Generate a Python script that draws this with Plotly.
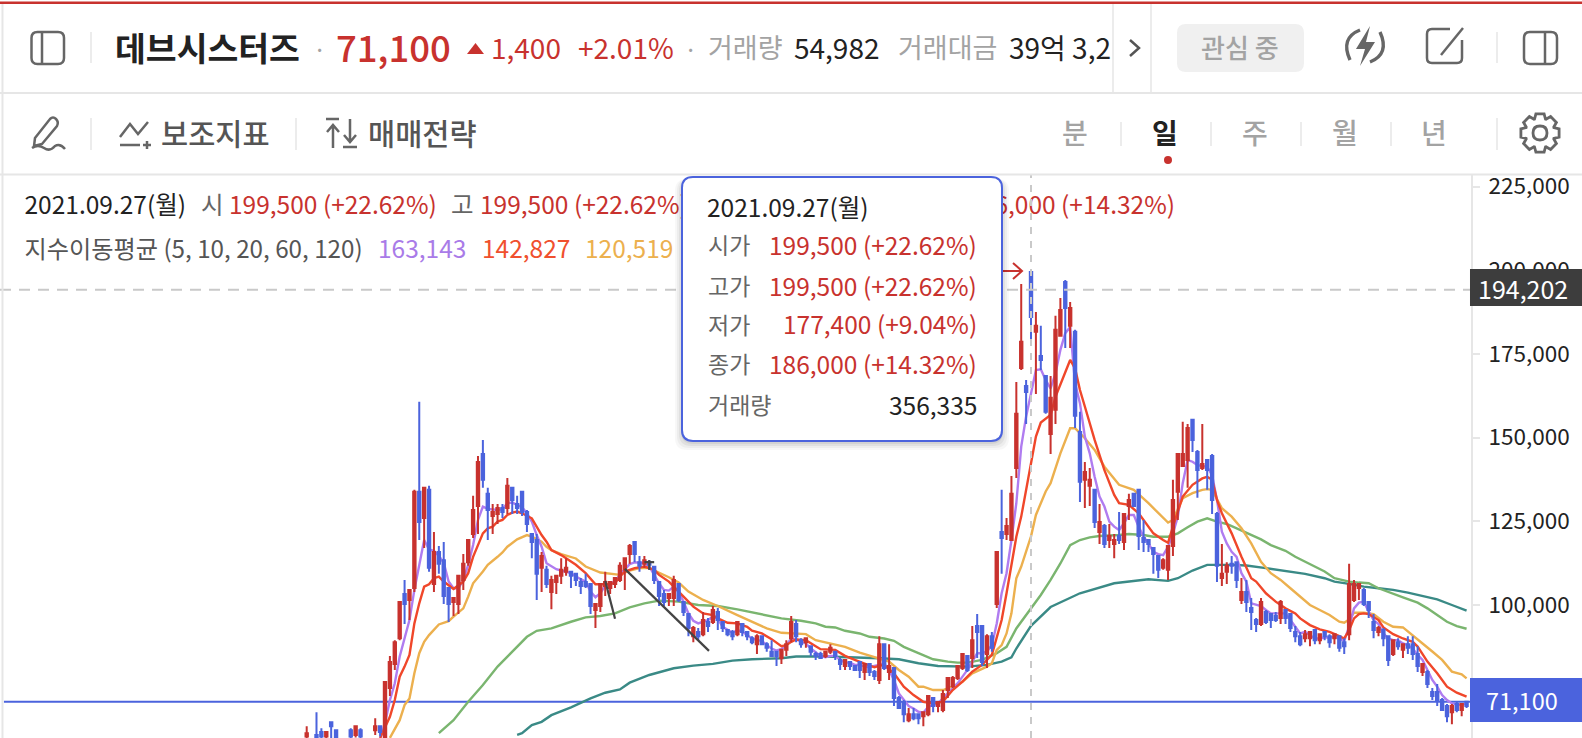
import math
import plotly.graph_objects as go

W, H = 1582, 738
FONT = "Noto Sans CJK KR"
FONT_MED = "Noto Sans CJK KR Medium, Noto Sans CJK KR"
RED = "#c8322e"
BLUE = "#4b63dd"
DARK = "#222222"
GRAY = "#666666"
LIGHT = "#a3a3a3"
LINE = "#e6e6e6"

# daily candles, left to right (first few sit below the visible range)
opens = [
    60700,59500,61200,62100,60700,65000,62600,59500,59300,62600,
    61200,62600,59500,59400,62600,63800,59700,75200,82400,90100,
    103300,101500,105100,133800,126000,134400,106300,115800,113400,105100,
    100900,100300,107500,112800,121200,129600,145100,133200,126600,127200,
    129000,129000,135000,130200,133800,127800,121200,119400,111100,110500,
    103900,106900,108700,109900,109900,109300,106900,106900,106300,98500,
    99700,105700,105100,106300,107500,110500,115200,118800,112800,112300,
    112800,111400,106900,103300,102100,102100,106300,100900,97300,90700,
    91900,91300,94900,94900,97900,94900,92500,91900,91300,94300,
    91900,90100,88300,90700,88300,86000,86000,84200,86600,90100,
    94300,89500,88900,87700,85400,85400,84800,86000,86000,83600,
    81800,83000,81800,83000,80000,82400,80000,77600,88300,80000,
    81200,72200,71000,65600,67400,67400,66800,67400,72200,69800,
    68600,74600,75800,78200,81200,84800,84200,93700,93700,85400,
    90700,100300,121800,121200,119400,140900,170800,165400,199500,181600,
    174400,168400,151100,158300,180400,196500,183400,181600,151700,137400,
    135600,134400,121800,123600,119400,118200,120600,118800,129600,133200,
    134400,120000,119400,117000,114600,111100,110500,117600,133800,141500,
    143300,155300,145700,140900,143300,144500,127200,108100,109900,112300,
    112800,101500,103900,99100,95500,94300,97900,97300,96700,96100,
    98500,97300,91900,90700,90100,90100,92500,89500,91900,90700,
    90100,90700,88900,91300,101500,105100,104500,100900,94900,91900,
    92500,90700,85400,88900,86600,88300,88300,85400,80000,80000,
    74000,74000,71600,69800,68000,70400,68600,71100,
]
highs = [
    63800,59800,68000,63200,62100,65000,62600,59800,59700,63200,
    63800,63200,59800,59900,66200,63800,77000,84800,89500,100900,
    107500,104500,134400,160700,135000,135600,121800,117600,118800,105100,
    102100,108700,115200,119400,132600,144500,149300,135000,130200,130200,
    130200,137900,135000,132600,133800,128400,121200,121200,115800,111700,
    108700,108700,114000,114000,109900,109300,108100,109300,106300,100300,
    106300,109900,106900,108100,112800,114000,118200,118800,114600,114600,
    113400,111700,106900,104500,103300,108700,106300,100900,97300,93700,
    93100,97900,96100,99700,99100,94900,92500,92500,94900,94300,
    91900,90700,91300,90700,88900,89500,86000,86600,89500,96700,
    95500,90100,90100,87700,86000,86000,86000,88300,86000,84200,
    83600,83000,81800,83000,82400,82400,80600,90700,88300,88300,
    81200,72800,71600,69200,69200,67400,68000,72800,72200,71000,
    74600,78200,78800,81800,85400,84800,93700,97300,93700,91300,
    91900,115800,134400,126000,138500,166600,195900,167200,199500,187500,
    183400,168400,168400,186400,191700,197100,190500,182200,157700,142700,
    140900,134400,130200,124200,124200,121200,127800,127200,133200,133200,
    134400,125400,119400,117000,114600,114000,117600,137400,145100,154700,
    154100,155300,146300,154100,143300,145100,127800,118200,112800,114600,
    112800,108100,107500,102100,96100,102100,98500,97300,97900,101500,
    98500,97300,93700,91900,92500,91900,92500,91300,91900,91300,
    91300,90700,90100,112300,107500,106300,105100,100900,97300,93700,
    93100,90700,89500,90100,88300,90700,90700,87700,82400,80600,
    75200,76400,72200,70400,70400,71000,70400,71100,
]
lows = [
    59700,59000,59500,60000,60200,59900,59900,59000,59000,60200,
    60400,60200,59000,59000,61200,60700,59500,72800,80600,89500,
    94300,95500,103900,119400,117000,109900,103900,109300,100300,94900,
    96700,97300,104500,111700,120000,121200,135000,119400,121200,124200,
    126000,127200,127200,127200,126600,121800,114000,101500,103900,105100,
    98700,103300,106300,108700,105100,105700,103300,105100,97300,93100,
    97900,102700,103300,105100,106900,104500,112300,112800,109900,111100,
    110500,106300,99700,99700,99700,99700,100900,96700,90700,88900,
    89500,90700,91900,94300,92500,91900,90700,89500,90700,90700,
    89500,88300,85400,88300,86000,84800,81800,82400,84800,88900,
    88900,87200,87200,84800,83600,84200,84200,85400,83600,80600,
    80600,80600,80600,78200,77600,78800,77600,76400,80600,77600,
    69800,69200,65000,65000,65600,64400,63800,66800,68000,68000,
    68000,72200,75200,77600,80600,80000,81200,84200,81800,81200,
    86000,99100,109300,119400,119400,137900,170200,154100,177400,163000,
    170200,157100,145100,154100,180400,176800,176800,152900,130800,129000,
    129600,123000,118200,117000,117000,114000,118200,116400,125400,129600,
    116400,115800,115800,109300,108100,110500,107500,114600,125400,141500,
    135000,145700,132000,140300,134400,127200,106900,105700,106300,109300,
    105100,100300,97900,92500,91900,93700,94300,93100,94900,94300,
    94300,91900,88900,87700,88900,87700,88300,88300,89500,87200,
    88300,86000,85400,89500,100900,101500,99700,96100,90100,90700,
    87700,81800,84800,86600,84200,85400,83600,80000,78800,75200,
    71600,69800,68600,65000,64400,68000,66800,69200,
]
closes = [
    61700,59300,59900,60700,62100,63800,60300,59200,59500,60700,
    63800,60700,59300,59600,63800,62100,77000,83000,88900,100900,
    100300,104500,133800,124800,135000,111100,115800,112300,102700,100300,
    102100,108700,112300,119400,128400,142700,137400,128400,127800,129000,
    127800,135600,131400,129000,127800,124200,118800,109300,114600,106300,
    107500,108700,110500,111100,108700,107500,105700,105700,99700,100300,
    106300,106900,106900,108100,111700,114000,117600,115200,111700,113400,
    112000,107500,102700,100900,103300,107500,101500,97900,93100,93100,
    90700,95500,93700,98500,95500,93100,91300,90700,94900,91900,
    90700,88900,90700,88300,87200,84800,84800,86600,88300,94900,
    90700,88300,90100,86000,84800,84200,86000,87200,84800,82400,
    83600,81800,80600,80600,82400,80000,78800,88300,81200,81800,
    72200,69200,67400,67400,66200,66200,68000,72800,69800,71000,
    73400,78200,78200,81800,85400,80600,89500,91900,83000,90700,
    87200,115800,120000,123600,133200,157100,178600,163600,186000,183400,
    173200,157700,161900,182200,188100,188700,188700,156500,136800,139700,
    137400,124800,124800,118200,120600,119400,119400,127200,131400,129600,
    120600,118800,118200,115200,110500,113400,117600,131400,145100,145100,
    152900,149300,140300,142100,140300,131400,111700,109300,111700,111700,
    107500,103900,100900,97900,94300,100900,94900,95500,95500,100900,
    96100,93100,90700,88300,91300,91900,89500,91300,90700,88900,
    91300,87200,87700,106300,106300,106300,100300,98500,92500,93100,
    90100,83600,89500,87700,88300,87200,85400,81800,82400,76400,
    72800,71600,68600,66800,69800,68600,70400,69800,
]
days = list(range(len(opens)))

# moving averages, read at the days where each line can be seen
ema5_days = list(range(15, 238))
ema5 = [
    60000,64600,71600,76600,84600,
    90000,95500,104500,112500,119400,116600,116200,114700,112600,107000,
    105000,105000,107500,112000,117900,125400,129400,128700,128600,128400,
    128600,130400,130600,129900,129200,127400,124900,120900,117400,112500,
    111500,110700,110300,110000,109500,108500,107700,107000,104000,102300,
    103500,105800,106500,107000,109000,110500,112200,112700,112700,112400,
    111500,109000,106500,104500,104300,105500,104000,101000,97500,95300,
    94500,95000,95500,96500,95900,93500,92500,91700,92500,92000,
    91000,90000,89500,89300,88000,87000,86400,86800,88000,90000,
    89700,89000,88500,87000,85800,84800,84400,84800,84800,83600,
    82800,82800,82100,82100,81600,81400,81800,82100,82400,80600,
    77600,73600,71600,69800,69100,68100,67800,69600,70100,70600,
    72100,73600,74800,76600,78600,80600,83100,85600,85600,86100,
    88000,94500,103500,109500,119400,130400,147300,156300,163143,170200,
    170400,167200,164700,169200,176200,181200,183000,166200,160300,150300,
    145300,138300,132400,129400,124900,123400,122400,124400,126900,126900,
    123400,120400,118400,115900,115200,114900,117400,121400,126400,136400,
    143300,142800,141800,141500,141300,138800,131400,121900,118400,115900,
    114400,109500,107000,100500,100000,99700,98500,97500,97500,97500,
    97500,95500,93500,91500,92000,91000,90000,90000,90300,90300,
    90500,90000,89300,93500,99000,100700,101000,98000,95500,94300,
    91500,90000,89500,89500,88500,88000,87000,85100,83600,80600,
    77600,75600,73100,71600,70600,70400,70100,70600,
]
ema10_days = [
    15,17,18,19,20,21,22,23,24,25,26,27,28,30,32,33,34,36,37,38,39,40,41,42,43,44,46,48,49,
    50,52,53,55,57,59,60,61,62,63,64,65,66,67,69,70,71,72,74,76,78,79,81,83,84,86,88,90,91,93,95,96,97,98,99,100,102,104,
    105,108,110,112,114,116,117,118,120,121,122,124,126,128,130,132,134,136,138,140,141,142,143,144,145,
    146,147,148,149,150,152,153,154,155,156,157,158,159,161,163,165,166,168,170,172,173,175,176,177,179,181,183,184,
    185,186,187,189,191,193,194,196,198,200,202,203,205,207,209,211,212,
    213,214,215,216,217,219,220,222,224,226,227,229,231,233,235,236,237,
]
ema10 = [
    60300,66600,71600,78600,81600,85100,94500,100500,105500,106200,108000,108500,107000,104800,107000,109500,114400,121400,122900,123400,124900,125400,126900,127600,127900,127400,125900,120900,118900,
    116400,114900,113900,112000,109500,106200,106200,106200,106300,106500,108500,110000,110500,111000,111500,111000,110500,109000,107000,104000,101000,99500,97500,97000,96000,94700,94500,93500,92300,91500,89800,88700,87700,88000,89000,89700,89500,87700,
    86800,86600,84800,83600,82600,81400,81800,82100,79600,77600,75600,73100,71100,70600,71100,74600,77100,80100,82100,85100,90500,95500,103500,112500,120400,
    126400,134400,142827,150300,154500,156800,162200,165700,169200,173200,170700,164200,159300,149300,140300,132900,130400,129900,127400,123600,121400,119400,118600,123400,132400,135900,137800,138300,
    137400,131400,127400,121400,114400,108000,107000,103500,101000,99000,97500,96000,94000,92700,92000,90700,90000,
    92500,96000,97300,97500,97300,95500,93300,91300,90000,89000,87600,83100,79600,75600,73800,73100,72600,
]
ema20_days = [
    17,19,20,21,22,23,24,25,27,29,30,32,33,34,36,37,39,40,41,43,45,46,48,49,
    50,52,55,57,60,61,64,66,68,70,72,74,76,78,81,84,88,91,94,97,99,102,104,
    107,110,113,117,119,121,123,125,126,128,130,132,134,136,139,140,141,142,143,144,145,
    146,148,149,151,152,154,156,157,159,161,163,166,169,172,176,177,179,181,183,184,
    185,187,189,191,193,195,197,199,201,203,205,207,209,211,212,213,
    214,216,218,220,222,224,226,228,230,232,234,236,237,
]
ema20 = [
    60300,65600,70100,72100,79600,85600,89000,91000,94200,95200,96500,99000,102500,106500,110000,112000,114400,115700,117400,119600,120900,120400,118900,117400,
    116400,115200,113900,111500,109700,109500,109000,110300,111000,111000,109700,108300,106700,104000,101500,99700,97000,95000,93000,91700,91500,91300,89500,
    88500,87500,85800,84100,83100,80600,78600,75600,75600,74600,74600,75600,77100,79600,81600,82600,86600,88000,91500,97500,108000,
    111500,120519,126900,133900,136400,145300,152800,152800,149800,146300,141300,135900,134400,130400,124600,125400,131900,133400,134400,134600,
    134400,128900,126400,122900,118400,112900,109500,107500,105000,102500,100000,98500,97000,95000,94700,95700,
    97700,97700,97300,95000,93500,93300,91000,88500,86100,83600,80100,79300,78100,
]
ema60_days = [
    27,30,33,36,39,42,45,47,50,54,57,60,63,66,69,72,76,80,84,88,92,97,101,104,
    106,108,110,113,115,118,120,122,125,128,131,133,135,138,141,143,145,148,150,
    152,154,156,158,160,162,166,168,171,173,176,178,180,182,184,
    186,188,190,192,195,197,200,202,205,208,210,212,213,
    215,217,219,221,224,227,229,231,233,235,237,
]
ema60 = [
    61700,65600,71100,76100,81600,86100,90500,92300,93000,95000,96300,96700,97500,99300,100500,101300,101000,100000,99700,98700,97500,96000,95300,94500,
    93500,93300,92300,91500,90500,90000,89300,87500,85600,83800,83100,82800,82800,83600,85600,87500,93000,99000,103000,
    107500,112400,117900,119400,120200,120600,120900,121200,120900,120400,120400,121400,123200,124900,125900,
    124900,124200,122900,121400,119600,117900,116200,114400,112200,110000,108000,107200,107000,
    106700,106500,105000,104000,102300,100700,99000,97000,95000,93700,92900,
]
ema120_days = [
    43,44,46,48,50,54,58,61,64,66,70,75,79,83,87,91,97,100,104,
    106,117,121,125,129,135,139,142,144,145,148,152,158,165,172,
    176,178,181,184,189,192,196,200,204,208,210,213,
    216,219,222,225,228,231,234,237,
]
ema120 = [
    61200,61700,64100,65100,67100,69400,72100,73800,74800,76800,79100,81100,81900,82400,83400,83800,84100,84600,84600,
    84600,84100,83800,82600,81800,81600,82100,83100,84400,87000,93800,99400,103500,106500,107700,
    107200,108000,110300,112000,112000,111800,111000,110200,109300,108000,107000,106300,
    105500,105000,104500,103700,102700,101700,100000,98300,
]
price_ticks = [100000, 125000, 150000, 175000, 200000, 225000]
last_price = 71100
cross_price = 194202
cross_day = 148
# user drawn trend lines on the chart: day, price, day, price
drawn_lines = [
    (61, 107200, 63, 95900),
    (65, 110800, 82.2, 86300),
    (69, 112800, 71, 112800),
    (70, 113400, 70, 110500),
]

# the price pane in page pixels
X_PER_DAY = 4.894
X_ZERO = 306.7
PRICE_PER_PX = 298.7
PANE_TOP, PANE_RIGHT = 175, 1471
x_range = [(0 - X_ZERO) / X_PER_DAY, (PANE_RIGHT - X_ZERO) / X_PER_DAY]
y_range = [100000 + (605 - H) * PRICE_PER_PX, 100000 + (605 - PANE_TOP) * PRICE_PER_PX]


def day_at(px):
    return (px - X_ZERO) / X_PER_DAY


def price_at(py):
    return 100000 + (605 - py) * PRICE_PER_PX


def pth(d):
    # path written in page pixels, turned into paper fractions
    out, is_x = [], True
    for tok in d.split():
        if tok.isalpha():
            out.append(tok)
            is_x = True
        else:
            v = float(tok)
            out.append(f"{v / W:.5f}" if is_x else f"{1 - v / H:.5f}")
            is_x = not is_x
    return " ".join(out)


def rr(x0, y0, x1, y1, r):
    return (f"M {x0+r} {y0} L {x1-r} {y0} Q {x1} {y0} {x1} {y0+r} L {x1} {y1-r} Q {x1} {y1} {x1-r} {y1} "
            f"L {x0+r} {y1} Q {x0} {y1} {x0} {y1-r} L {x0} {y0+r} Q {x0} {y0} {x0+r} {y0} Z")


def stroke(d, color=GRAY, width=2.5):
    return dict(type="path", xref="paper", yref="paper", path=pth(d), line=dict(color=color, width=width), layer="above")


def solid(d, color, line=None, width=0):
    return dict(type="path", xref="paper", yref="paper", path=pth(d), fillcolor=color,
                line=dict(color=line or color, width=width), layer="above")


def seg(x0, y0, x1, y1, color=LINE, width=1.5):
    return stroke(f"M {x0} {y0} L {x1} {y1}", color, width)


def gear(cx, cy, r_out, r_in, teeth=8):
    pts = []
    for i in range(teeth):
        a = 2 * math.pi * i / teeth - math.pi / 2
        step = 2 * math.pi / teeth
        for da, r in [(-0.30, r_in), (-0.17, r_out), (0.17, r_out), (0.30, r_in)]:
            b = a + da * step * 1.6
            pts.append(f"{cx + r * math.cos(b):.1f} {cy + r * math.sin(b):.1f}")
    return "M " + " L ".join(pts) + " Z"


def label(x, y, text, size, color, anchor="left", weight=400, family=FONT):
    return dict(x=x / W, y=1 - y / H, xref="paper", yref="paper", text=text, showarrow=False,
                xanchor=anchor, yanchor="middle", align=anchor, borderpad=0, borderwidth=0,
                font=dict(family=family, size=size, color=color, weight=weight))


def under_text(x, y, text, color, pos="middle right", size=24.5):
    # legend rows run behind the tooltip card, so they are drawn below the shapes
    return go.Scatter(x=[day_at(x)], y=[price_at(y)], text=[text], mode="text", textposition=pos,
                      textfont=dict(family=FONT, size=size, color=color), showlegend=False, hoverinfo="skip")


fig = go.Figure()
fig.add_trace(under_text(24.5, 208, "2021.09.27(월)", DARK))
fig.add_trace(under_text(201, 208, "시", GRAY))
fig.add_trace(under_text(229, 208, "199,500 (+22.62%)", RED))
fig.add_trace(under_text(451, 208, "고", GRAY))
fig.add_trace(under_text(480, 208, "199,500 (+22.62%)", RED))
fig.add_trace(under_text(1175, 208, "186,000 (+14.32%)", RED, "middle left"))
fig.add_trace(under_text(24.5, 252, "지수이동평균 (5, 10, 20, 60, 120)", "#555555", size=24.2))
fig.add_trace(under_text(378, 252, "163,143", "#a97be8"))
fig.add_trace(under_text(482, 252, "142,827", "#f0502e"))
fig.add_trace(under_text(585, 252, "120,519", "#ecb04e"))

for xs, ys, color in [
    (ema120_days, ema120, "#3a8a86"),
    (ema60_days, ema60, "#7ab56f"),
    (ema20_days, ema20, "#ecb04e"),
    (ema5_days, ema5, "#b07cf0"),
    (ema10_days, ema10, "#f0472a"),
]:
    fig.add_trace(go.Scatter(x=xs, y=ys, mode="lines", line=dict(color=color, width=2.4),
                             showlegend=False, hoverinfo="skip"))

fig.add_trace(go.Candlestick(
    x=days, open=opens, high=highs, low=lows, close=closes, xaxis="x2", yaxis="y2",
    increasing=dict(line=dict(color=RED, width=2), fillcolor=RED),
    decreasing=dict(line=dict(color=BLUE, width=2), fillcolor=BLUE),
    whiskerwidth=0, showlegend=False, hoverinfo="skip",
))

shapes = []
# price lines under the candles
shapes.append(dict(type="line", xref="x", yref="y", x0=x_range[0] + 0.8, x1=x_range[1], y0=last_price, y1=last_price,
                   line=dict(color=BLUE, width=2), layer="below"))
# drawn trend lines and crosshair
for d0, p0, d1, p1 in drawn_lines:
    shapes.append(dict(type="line", xref="x", yref="y", x0=d0, y0=p0, x1=d1, y1=p1,
                       line=dict(color="#444444", width=2.2), layer="above"))
shapes.append(dict(type="line", xref="x", yref="y", x0=cross_day, x1=cross_day, y0=y_range[0], y1=y_range[1],
                   line=dict(color="#c9c9c9", width=2, dash="7px,7px"), layer="above"))
shapes.append(dict(type="line", xref="x", yref="y", x0=x_range[0], x1=x_range[1], y0=cross_price, y1=cross_price,
                   line=dict(color="#c9c9c9", width=2, dash="11px,8px"), layer="above"))
# arrow to the high of the hovered day
shapes.append(stroke("M 1000 271 L 1022 271 M 1013 263 L 1022 271 L 1013 279", RED, 2))

# page frame and header rules
shapes += [
    seg(0, 2.7, W, 2.7, RED, 2.4),
    seg(2.5, 4, 2.5, H, LINE, 2),
    seg(0, 93, W, 93, LINE, 2),
    seg(0, 174.5, W, 174.5, LINE, 2),
    seg(1113, 4, 1113, 92, LINE, 1.5),
    seg(1151, 4, 1151, 92, LINE, 1.5),
]
for x, y0, y1 in [(91, 32, 63), (1497, 32, 63), (91, 118, 150), (296, 118, 150),
                  (1121, 122, 146), (1211, 122, 146), (1301, 122, 146), (1391, 122, 146), (1497, 118, 150)]:
    shapes.append(seg(x, y0, x, y1))

# header icons
shapes += [
    stroke(rr(31.5, 32, 64, 64, 6)),
    seg(42, 32, 42, 64, GRAY, 2.5),
    solid("M 475.5 43 L 484 54 L 467 54 Z", RED),
    stroke("M 1130 40 L 1139 48 L 1130 56", "#555555", 2.5),
    solid(rr(1177, 24, 1304, 72, 9), "#f0f0f0"),
    stroke("M 1350 60 Q 1340 38 1360 30", GRAY, 3.4),
    stroke("M 1380 32 Q 1390 54 1370 62", GRAY, 3.4),
    solid("M 1370 26 L 1356 49 L 1365 49 L 1360 66 L 1375 42 L 1366 42 Z", GRAY),
    stroke("M 1450 29 L 1432 29 Q 1427 29 1427 34 L 1427 58 Q 1427 63 1432 63 L 1457 63 Q 1462 63 1462 58 L 1462 40"),
    stroke("M 1463 28 L 1441 55"),
    stroke(rr(1524, 32, 1557, 64, 6)),
    seg(1545, 32, 1545, 64, GRAY, 2.5),
    # second row
    stroke("M 35 138 L 50 119 Q 53 116 56 119 Q 59 122 57 126 L 42 144 L 34 146 Z", GRAY, 2.5),
    stroke("M 32 148 Q 38 144 44 148 Q 50 152 55 146 Q 60 143 65 149", GRAY, 2.5),
    stroke("M 120 137 L 130 124 L 138 134 L 148 122", GRAY, 2.5),
    stroke("M 120 145 L 140 145 M 147 141 L 147 149 M 143 145 L 151 145", GRAY, 2.5),
    stroke("M 326 119 L 339 119 M 333 148 L 333 126 M 327 132 L 333 125 L 339 132", GRAY, 2.5),
    stroke("M 343 147 L 357 147 M 350 119 L 350 141 M 344 135 L 350 142 L 356 135", GRAY, 2.5),
    solid(gear(1540, 133, 19.5, 15), "rgba(0,0,0,0)", GRAY, 2.8),
    stroke("M 1533 133 Q 1533 126 1540 126 Q 1547 126 1547 133 Q 1547 140 1540 140 Q 1533 140 1533 133 Z", GRAY, 2.8),
    solid("M 1164 160 Q 1164 156 1168 156 Q 1172 156 1172 160 Q 1172 164 1168 164 Q 1164 164 1164 160 Z", RED),
]

# tooltip card, with a soft shadow
for grow, alpha in [(7, 0.03), (5, 0.04), (3, 0.05), (1, 0.06)]:
    shapes.append(solid(rr(682 - grow, 177 + 2, 1002 + grow, 441 + 2 + grow, 12), f"rgba(0,0,0,{alpha})"))
shapes.append(solid(rr(682, 177, 1002, 441, 11), "#ffffff", BLUE, 2))

# last value tags on the axis
shapes.append(solid(f"M 1470 269 L {W} 269 L {W} 306 L 1470 306 Z", "#3d3d3d"))
shapes.append(solid(f"M 1470 678 L {W} 678 L {W} 722 L 1470 722 Z", BLUE))

annotations = [
    label(115, 47, "데브시스터즈", 33.5, DARK, weight=700),
    label(319, 49, "·", 24, LIGHT, "center"),
    label(336, 47, "71,100", 36.5, RED, family=FONT_MED),
    label(491, 47, "1,400", 28, RED),
    label(578, 47, "+2.01%", 28, RED),
    label(690, 49, "·", 24, LIGHT, "center"),
    label(708, 47, "거래량", 27, LIGHT),
    label(794, 47, "54,982", 28, DARK),
    label(898, 47, "거래대금", 27, LIGHT),
    label(1009, 47, "39억 3,2", 28, DARK),
    label(1240, 47, "관심 중", 26, LIGHT, "center", family=FONT_MED),
    label(161, 132, "보조지표", 29.5, "#555555", family=FONT_MED),
    label(368, 132, "매매전략", 29.5, "#555555", family=FONT_MED),
    label(1075, 132, "분", 28, LIGHT, "center", family=FONT_MED),
    label(1165, 132, "일", 28, DARK, "center", 700),
    label(1255, 132, "주", 28, LIGHT, "center", family=FONT_MED),
    label(1345, 132, "월", 28, LIGHT, "center", family=FONT_MED),
    label(1434, 132, "년", 28, LIGHT, "center", family=FONT_MED),
    # tooltip
    label(707, 206, "2021.09.27(월)", 24.5, DARK),
    label(708, 244, "시가", 23, GRAY),
    label(977, 244, "199,500 (+22.62%)", 24.5, RED, "right"),
    label(708, 285, "고가", 23, GRAY),
    label(977, 285, "199,500 (+22.62%)", 24.5, RED, "right"),
    label(708, 324, "저가", 23, GRAY),
    label(977, 324, "177,400 (+9.04%)", 24.5, RED, "right"),
    label(708, 363, "종가", 23, GRAY),
    label(977, 363, "186,000 (+14.32%)", 24.5, RED, "right"),
    label(708, 404, "거래량", 23, GRAY),
    label(977, 404, "356,335", 24.5, DARK, "right"),
    # axis tags
    label(1478, 288, f"{cross_price:,}", 25, "#ffffff"),
    label(1486, 700, f"{last_price:,}", 23.5, "#ffffff"),
]

fig.update_layout(
    width=W, height=H, margin=dict(l=0, r=0, t=0, b=0),
    paper_bgcolor="#ffffff", plot_bgcolor="#ffffff", showlegend=False,
    shapes=shapes, annotations=annotations, hovermode=False,
    xaxis=dict(domain=[0, PANE_RIGHT / W], range=x_range, visible=False, automargin=False,
               rangeslider=dict(visible=False)),
    yaxis=dict(domain=[0, 1 - PANE_TOP / H], range=y_range, side="right", tickvals=price_ticks, tickformat=",d",
               automargin=False, showgrid=False, zeroline=False, showline=True, linecolor=LINE, linewidth=2,
               ticks="outside", ticklen=7, tickcolor=LINE, tickwidth=1.5, ticklabelstandoff=4,
               tickfont=dict(family=FONT, size=22.5, color=DARK)),
    xaxis2=dict(overlaying="x", range=x_range, visible=False, automargin=False, rangeslider=dict(visible=False)),
    yaxis2=dict(overlaying="y", range=y_range, visible=False, automargin=False),
)

fig.write_html("out.html", config={"displayModeBar": False},
               post_script="document.body.style.margin='0';")
